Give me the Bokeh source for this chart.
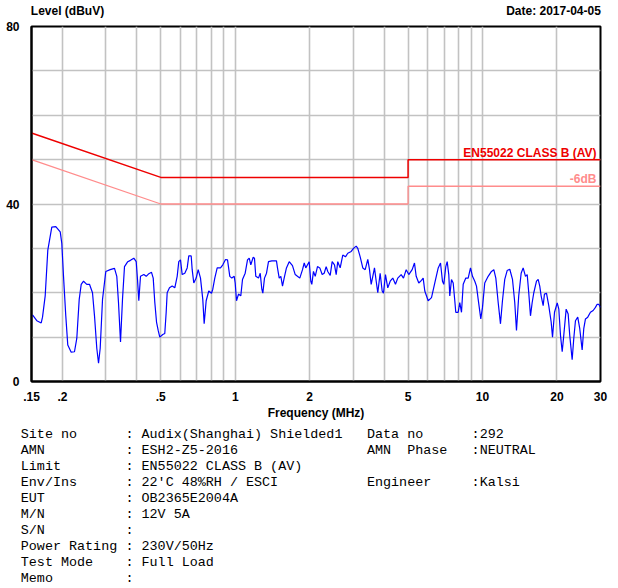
from bokeh.plotting import figure
from bokeh.models import FixedTicker, Label, Range1d, LinearAxis, LinearScale
from bokeh.layouts import column
from bokeh.core.properties import value
from bokeh.embed import file_html
from bokeh.resources import INLINE

# ---------------- data ----------------
FREQ_MHZ = [
    0.1514, 0.1576, 0.1642, 0.1662, 0.1704, 0.1746, 0.1812, 0.1881, 0.1960, 0.1989,
    0.2021, 0.2064, 0.2103, 0.2171, 0.2238, 0.2287, 0.2339, 0.2383, 0.2435, 0.2510,
    0.2574, 0.2647, 0.2697, 0.2755, 0.2800, 0.2844, 0.2906, 0.2996, 0.3121, 0.3249,
    0.3319, 0.3372, 0.3436, 0.3500, 0.3566, 0.3676,
    0.3769, 0.3889, 0.3977, 0.4025, 0.4074, 0.4139, 0.4269, 0.4366, 0.4473, 0.4586,
    0.4659, 0.4729, 0.4805, 0.4880, 0.4953, 0.5093, 0.5189, 0.5257, 0.5306, 0.5421,
    0.5559, 0.5696, 0.5824, 0.5911, 0.6006, 0.6102, 0.6252, 0.6393, 0.6489, 0.6636,
    0.6697, 0.6798, 0.6951, 0.7083, 0.7236, 0.7392, 0.7488, 0.7629, 0.7816, 0.8016,
    0.8113, 0.8266, 0.8453, 0.8718, 0.8907, 0.9134,
    0.9306, 0.9507, 0.9686, 0.9904, 0.9996, 1.012, 1.031, 1.053, 1.070, 1.097,
    1.121, 1.139, 1.156, 1.182, 1.196, 1.211, 1.242, 1.262, 1.281, 1.293,
    1.313, 1.338, 1.363, 1.406, 1.468, 1.482, 1.506, 1.529, 1.553, 1.577,
    1.611, 1.653, 1.704, 1.748, 1.785, 1.824, 1.871, 1.901, 1.929, 1.960,
    1.991, 2.021, 2.040, 2.072, 2.106, 2.151, 2.198,
    2.247, 2.289, 2.332, 2.367, 2.421, 2.466, 2.520, 2.560, 2.598, 2.657,
    2.722, 2.791, 2.852, 2.944, 3.008, 3.084, 3.130, 3.201, 3.280, 3.354,
    3.436, 3.491, 3.546, 3.600, 3.657, 3.716, 3.771, 3.855, 3.928, 3.976,
    4.051, 4.139, 4.233, 4.336, 4.446, 4.542, 4.689, 4.791, 4.913, 5.033,
    5.194, 5.307, 5.392, 5.524,
    5.664, 5.755, 5.842, 6.030, 6.219, 6.413, 6.620, 6.763, 6.888, 6.972,
    7.103, 7.197, 7.304, 7.373, 7.491, 7.610, 7.725, 7.796, 7.972, 8.092,
    8.222, 8.354, 8.559, 8.751, 8.941, 9.109, 9.306, 9.454, 9.605, 9.840,
    9.998, 10.21, 10.54, 10.87, 11.11, 11.32, 11.57, 11.82, 12.04, 12.30,
    12.58, 12.89, 13.22, 13.50, 13.72,
    14.01, 14.33, 14.60, 14.92, 15.16, 15.38, 15.63, 15.88, 16.12, 16.53,
    16.79, 17.04, 17.26, 17.59, 17.80, 18.14, 18.53, 18.95, 19.19, 19.55,
    20.05, 20.35, 20.67, 21.00, 21.31, 21.79, 22.20, 22.53, 23.04, 23.39,
    23.76, 24.27, 24.73, 25.29, 25.67, 26.08, 26.64, 27.32, 28.02, 28.62,
    29.08, 29.52, 30.0,
]
LEVEL_DBUV = [
    15.0, 13.7, 13.2, 14.5, 19.3, 29.6, 34.8, 34.9, 33.7, 31.1,
    23.7, 14.8, 8.2, 6.6, 6.7, 9.7, 18.5, 21.9, 22.6, 21.9,
    21.9, 20.0, 14.8, 7.5, 4.1, 7.5, 18.5, 24.8, 25.2, 25.5,
    23.7, 17.8, 8.9, 18.5, 25.9, 27.0,
    27.3, 27.8, 27.0, 23.0, 18.2, 23.7, 24.1, 23.7, 24.3, 24.6,
    23.3, 17.8, 13.4, 11.5, 10.0, 10.6, 10.8, 15.6, 20.0, 21.1,
    21.5, 21.1, 23.7, 27.0, 27.4, 24.1, 24.4, 25.6, 28.3, 28.3,
    25.2, 22.2, 23.3, 25.2, 23.3, 18.5, 13.0, 18.2, 20.4, 19.9,
    20.8, 23.3, 25.6, 25.6, 26.3, 27.5,
    27.4, 23.7, 23.3, 23.7, 22.2, 18.2, 19.7, 19.3, 23.0, 24.4,
    27.4, 27.8, 26.3, 28.0, 27.8, 23.7, 23.3, 24.4, 20.8, 19.9,
    23.3, 24.4, 27.0, 27.2, 27.2, 25.6, 23.3, 23.7, 21.5, 23.3,
    25.6, 27.0, 26.1, 24.1, 23.7, 23.3, 25.2, 26.7, 25.6, 26.3,
    27.0, 22.6, 21.9, 24.8, 23.7, 25.9, 25.6,
    24.1, 24.4, 25.9, 24.8, 23.9, 27.0, 26.3, 24.1, 27.0, 25.6,
    28.5, 28.1, 28.9, 29.3, 30.0, 30.5, 30.0, 28.1, 25.6, 25.2,
    27.5, 25.2, 21.9, 23.7, 25.6, 22.6, 20.0, 24.4, 20.4, 19.9,
    24.1, 21.1, 22.6, 23.3, 21.9, 23.3, 24.1, 23.3, 25.2, 24.1,
    25.2, 26.7, 23.7, 22.2,
    22.8, 23.3, 20.4, 18.2, 18.9, 22.2, 25.6, 26.7, 22.6, 21.9,
    25.9, 27.0, 24.1, 19.3, 23.0, 22.2, 18.2, 15.6, 15.6, 17.8,
    15.6, 21.9, 23.3, 23.3, 25.6, 23.7, 22.6, 21.5, 18.5, 14.1,
    16.7, 22.2, 23.7, 24.8, 25.2, 23.3, 17.8, 13.0, 18.2, 23.0,
    25.0, 25.3, 23.0, 17.8, 11.5,
    19.3, 24.4, 25.6, 23.7, 24.1, 20.0, 14.8, 17.8, 20.0, 22.6,
    23.0, 21.5, 19.3, 17.1, 19.7, 19.9, 17.1, 13.4, 10.0, 15.6,
    17.7, 16.3, 10.4, 6.7, 10.4, 16.3, 15.2, 10.4, 4.9, 9.7,
    13.7, 14.5, 11.9, 7.1, 11.9, 14.1, 14.5, 15.6, 16.0, 16.7,
    17.4, 17.4, 16.7,
]

LIMIT_FREQ = [0.15, 0.5, 5, 5, 30]
LIMIT_AV = [56, 46, 46, 50, 50]
LIMIT_AV_6DB = [50, 40, 40, 44, 44]

X_TICKS = [0.15, 0.2, 0.5, 1, 2, 5, 10, 20, 30]
X_TICK_LABELS = [".15", ".2", ".5", "1", "2", "5", "10", "20", "30"]
X_GRID = [0.2, 0.3, 0.4, 0.5, 0.6, 0.7, 0.8, 0.9, 1, 2, 3, 4, 5, 6, 7, 8, 9, 10, 20]
Y_TICKS = [0, 40, 80]
Y_GRID = [10, 20, 30, 40, 50, 60, 70]

HEADER_LEFT = "Level (dBuV)"
HEADER_RIGHT = "Date: 2017-04-05"

INFO_KEYS = ["Site no", "AMN", "Limit", "Env/Ins", "EUT", "M/N", "S/N",
             "Power Rating", "Test Mode", "Memo"]
INFO_VALUES = ["Audix(Shanghai) Shielded1", "ESH2-Z5-2016", "EN55022 CLASS B (AV)",
               "22'C 48%RH / ESCI", "OB2365E2004A", "12V 5A", "", "230V/50Hz",
               "Full Load", ""]
INFO_RIGHT = {0: ["Data no", ":292"], 1: ["AMN", "Phase", ":NEUTRAL"], 3: ["Engineer", ":Kalsi"]}

# ---------------- layout constants ----------------
SANS = "Liberation Sans"
MONO = "Liberation Mono"
W = 618
H_CHART = 422
H_INFO = 588 - H_CHART
FRAME_L, FRAME_R, FRAME_T, FRAME_B = 31, 600, 26, 387

# ---------------- chart ----------------
p = figure(width=W, height=H_CHART, x_axis_type="log",
           x_range=Range1d(0.15, 30), y_range=Range1d(0, 80),
           output_backend="svg", toolbar_location=None, title_location=None,
           min_border_left=FRAME_L, min_border_right=W - FRAME_R,
           min_border_top=FRAME_T, min_border_bottom=H_CHART - FRAME_B)
p.frame_align = False
p.background_fill_color = "white"
p.border_fill_color = "white"
p.outline_line_color = "black"
p.outline_line_width = 2

for ax in (p.xaxis[0], p.yaxis[0]):
    ax.axis_line_color = "black"
    ax.axis_line_width = 2
    ax.major_tick_line_color = None
    ax.minor_tick_line_color = None
    ax.major_label_text_font = SANS
    ax.major_label_text_font_style = "bold"
    ax.major_label_text_font_size = "12px"
    ax.major_label_text_color = "black"

p.xaxis.ticker = FixedTicker(ticks=X_TICKS)
p.xaxis.major_label_overrides = dict(zip(X_TICKS, X_TICK_LABELS))
p.xaxis.major_label_standoff = 4
p.xaxis.axis_label = "Frequency (MHz)"
p.xaxis.axis_label_text_font = SANS
p.xaxis.axis_label_text_font_style = "bold"
p.xaxis.axis_label_text_font_size = "12px"
p.xaxis.axis_label_text_color = "black"
p.xaxis.axis_label_standoff = 2

p.yaxis.ticker = FixedTicker(ticks=Y_TICKS)
p.yaxis.major_label_standoff = 6

# header texts carried by a label-only axis above the frame (linear pixel range)
frame_w = FRAME_R - FRAME_L
p.extra_x_ranges = {"hdr": Range1d(0, frame_w)}
p.extra_x_scales = {"hdr": LinearScale()}
hdr_pos = [36, frame_w - 47]
hdr = LinearAxis(x_range_name="hdr", ticker=FixedTicker(ticks=hdr_pos),
                 major_label_overrides=dict(zip(hdr_pos, [HEADER_LEFT, HEADER_RIGHT])),
                 axis_line_color=None, major_tick_line_color=None,
                 minor_tick_line_color=None, major_label_standoff=3,
                 major_label_text_font=SANS, major_label_text_font_style="bold",
                 major_label_text_font_size="12px", major_label_text_color="black")
p.add_layout(hdr, "above")

p.xgrid.ticker = FixedTicker(ticks=X_GRID)
p.ygrid.ticker = FixedTicker(ticks=Y_GRID)
for g in (p.xgrid[0], p.ygrid[0]):
    g.grid_line_color = "#c2c2c2"
    g.grid_line_width = 1.6

p.line(LIMIT_FREQ, LIMIT_AV_6DB, line_color="#ff8c8c", line_width=1.3)
p.line(LIMIT_FREQ, LIMIT_AV, line_color="#ee0000", line_width=1.5)
p.line(FREQ_MHZ, LEVEL_DBUV, line_color="#0000ff", line_width=1.2)

p.add_layout(Label(x=LIMIT_FREQ[-1], y=LIMIT_AV[-1], x_offset=-4, y_offset=7,
                   text="EN55022 CLASS B (AV)", text_align="right", text_baseline="middle",
                   text_font=SANS, text_font_style="bold", text_font_size="12px",
                   text_color="#ee0000"))
p.add_layout(Label(x=LIMIT_FREQ[-1], y=LIMIT_AV_6DB[-1], x_offset=-4, y_offset=7,
                   text="-6dB", text_align="right", text_baseline="middle",
                   text_font=SANS, text_font_style="bold", text_font_size="12px",
                   text_color="#ff8c8c"))

# ---------------- info block ----------------
q = figure(width=W, height=H_INFO, x_range=Range1d(0, W),
           y_range=Range1d(588, H_CHART), output_backend="svg",
           toolbar_location=None, title_location=None,
           x_axis_location=None, y_axis_location=None,
           min_border_left=0, min_border_right=0, min_border_top=0, min_border_bottom=0)
q.frame_align = False
q.grid.visible = False
q.outline_line_color = None
q.background_fill_color = "white"
q.border_fill_color = "white"

CW = 8.05
X0 = 20.3
ROW0 = 434
ROW_STEP = 16
xs, ys, ts = [], [], []


def put(col, row, text):
    xs.append(X0 + col * CW)
    ys.append(ROW0 + row * ROW_STEP)
    ts.append(text)


for i, (k, v) in enumerate(zip(INFO_KEYS, INFO_VALUES)):
    put(0, i, k)
    put(13, i, ": " + v if v else ":")
for row, items in INFO_RIGHT.items():
    if len(items) == 2:
        put(43, row, items[0])
        put(56, row, items[1])
    else:
        put(43, row, items[0])
        put(48, row, items[1])
        put(56, row, items[2])

q.text(x=xs, y=ys, text=ts, text_font=value(MONO), text_font_size=value("13.4px"),
       text_align="left", text_baseline="middle", text_color="black")

layout = column(p, q, spacing=0)
open("out.html", "w").write(file_html(layout, INLINE))
